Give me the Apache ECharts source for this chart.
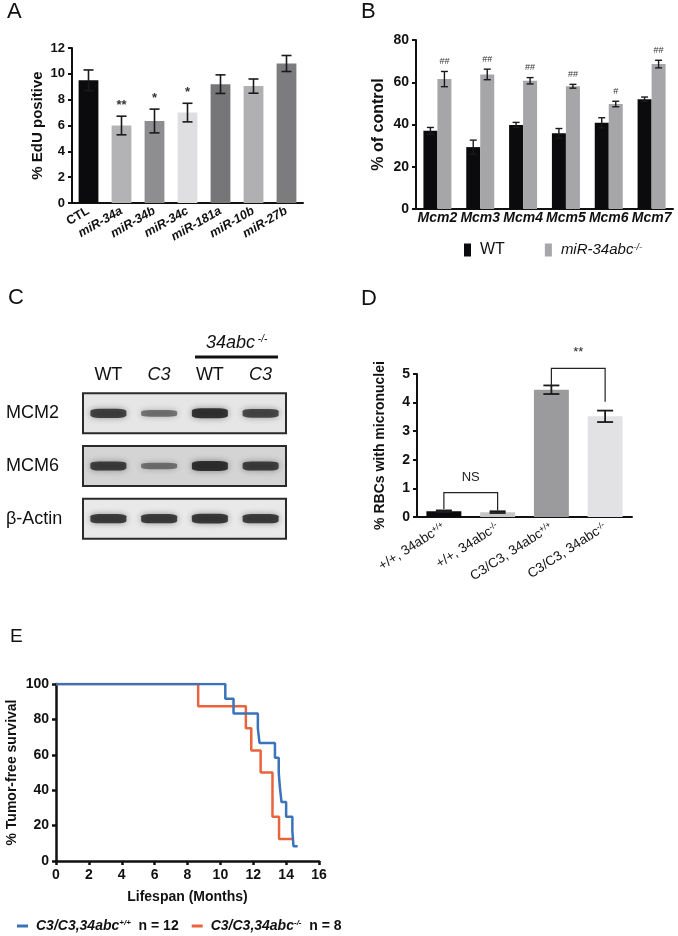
<!DOCTYPE html>
<html>
<head>
<meta charset="utf-8">
<script src="https://cdn.jsdelivr.net/npm/echarts@6/dist/echarts.min.js"></script>
<style>
  html, body { margin: 0; padding: 0; background: #fff; }
  #chart { width: 678px; height: 936px; }
</style>
</head>
<body>
<div id="chart"></div>
<script>
const FONT = "'Liberation Sans', Arial, Helvetica, sans-serif";

// A - EdU
const edCats = ['CTL', 'miR-34a', 'miR-34b', 'miR-34c', 'miR-181a', 'miR-10b', 'miR-27b'];
const edVals = [9.5, 6.0, 6.35, 7.0, 9.2, 9.05, 10.8];
const edErr = [0.8, 0.72, 0.92, 0.72, 0.72, 0.55, 0.62];
const edMarks = ['', '**', '*', '*', '', '', ''];

// B - Mcm expression
const mcmCats = ['Mcm2', 'Mcm3', 'Mcm4', 'Mcm5', 'Mcm6', 'Mcm7'];
const mcmWt = [37, 29.3, 39.8, 35.8, 40.8, 52];
const mcmWtErr = [1.6, 3.3, 1.2, 2.3, 2.4, 1.0];
const mcmKo = [61.5, 63.7, 60.7, 58.1, 49.7, 68.6];
const mcmKoErr = [3.6, 2.5, 1.5, 0.9, 1.3, 1.8];
const mcmMarks = ['##', '##', '##', '##', '#', '##'];

// C - western blot
const blotLanes = ['WT', 'C3', 'WT', 'C3'];
const blotRows = ['MCM2', 'MCM6', 'β-Actin'];
const blotBands = [ // lane, row, intensity
  [0, 0, 0.85], [1, 0, 0.45], [2, 0, 1.0], [3, 0, 0.8],
  [0, 1, 0.85], [1, 1, 0.4], [2, 1, 1.0], [3, 1, 0.85],
  [0, 2, 0.9], [1, 2, 0.9], [2, 2, 0.95], [3, 2, 0.9]
];

// D - micronuclei
const rbcGeno = ['+/+', '+/+', 'C3/C3', 'C3/C3'];
const rbcMir = ['+/+', '-/-', '+/+', '-/-'];
const rbcVals = [0.2, 0.17, 4.45, 3.52];
const rbcErr = [0.03, 0.03, 0.15, 0.2];
const rbcBrackets = [[0, 1, 0.85, 0.28, 0.23], [2, 3, 5.2, 4.6, 4.03]];
const rbcBracketText = ['NS', '**'];

// E - tumor-free survival
const kmWtTime = [0, 10.3, 10.8, 12.28, 12.38, 13.32, 13.55, 13.62, 13.72, 14.0, 14.38, 14.45, 14.7];
const kmWtSurv = [100, 91.7, 83.3, 75, 66.7, 58.3, 50, 41.7, 33.3, 25, 16.7, 8.3, 8.3];
const kmKoTime = [0, 8.65, 11.55, 11.88, 12.45, 13.17, 13.57, 14.38];
const kmKoSurv = [100, 87.5, 75, 62.5, 50, 25, 12.5, 12.5];

// colours
const edColors = ['#0b0b0d', '#b3b3b5', '#8e8e90', '#dfdfe1', '#767678', '#b0b0b2', '#7c7c7e'];
const rbcColors = ['#0b0b0d', '#c6c6c8', '#9b9b9d', '#e2e2e4'];
const blotBg = ['#e6e6e6', '#d4d4d4', '#e9e9e9'];
const blue = '#3a73ba', orange = '#e8643c';

const dom = document.getElementById('chart');
const chart = echarts.init(dom, null, { renderer: 'canvas' });

function errBars(idx, vals, errs, opt) {
  return {
    type: 'custom', xAxisIndex: idx, yAxisIndex: idx, z: 5, silent: true,
    data: vals.map((v, i) => [i, v + errs[i], v - errs[i]]),
    renderItem(params, api) {
      const i = api.value(0);
      const hi = api.coord([i, api.value(1)]);
      const lo = api.coord([i, api.value(2)]);
      const x = hi[0] + (opt.offset || 0);
      const c = opt.cap / 2;
      const st = { stroke: '#1a1a1a', lineWidth: opt.lw || 1.5 };
      const kids = [
        { type: 'line', shape: { x1: x, y1: hi[1], x2: x, y2: lo[1] }, style: st },
        { type: 'line', shape: { x1: x - c, y1: hi[1], x2: x + c, y2: hi[1] }, style: st },
        { type: 'line', shape: { x1: x - c, y1: lo[1], x2: x + c, y2: lo[1] }, style: st }
      ];
      const m = opt.marks ? opt.marks[params.dataIndex] : '';
      if (m) {
        kids.push({
          type: 'text', x: x, y: hi[1] - opt.markGap,
          style: { text: m, fill: '#333', fontSize: opt.markSize, fontFamily: FONT,
                   fontWeight: opt.markWeight || 'normal', align: 'center', verticalAlign: 'middle' }
        });
      }
      return { type: 'group', children: kids };
    }
  };
}

function valAxis(idx, max, interval, fs, lw) {
  return {
    gridIndex: idx, type: 'value', min: 0, max: max, interval: interval,
    splitLine: { show: false },
    axisLine: { show: true, lineStyle: { color: '#111', width: lw } },
    axisTick: { show: true, length: 4, lineStyle: { color: '#111', width: lw } },
    axisLabel: { fontSize: fs, fontWeight: 'bold', color: '#111', margin: 7, fontFamily: FONT }
  };
}

const supRich = (fs) => ({
  i: { fontSize: fs, fontStyle: 'italic', fontWeight: 'bold', color: '#111', fontFamily: FONT },
  n: { fontSize: fs, fontWeight: 'bold', color: '#111', fontFamily: FONT },
  s: { fontSize: Math.round(fs * 0.6), fontStyle: 'italic', fontWeight: 'bold', color: '#111', verticalAlign: 'top', fontFamily: FONT }
});

const options = {
  backgroundColor: '#fff',
  animation: false,
  textStyle: { fontFamily: FONT },
  grid: [
    { left: 72, top: 48, width: 231, height: 155, outerBoundsMode: 'none' },
    { left: 416, top: 40, width: 257, height: 169, outerBoundsMode: 'none' },
    { left: 83, top: 387, width: 203, height: 158, outerBoundsMode: 'none' },
    { left: 417, top: 374, width: 215, height: 143, outerBoundsMode: 'none' },
    { left: 56, top: 684, width: 263, height: 177, outerBoundsMode: 'none' }
  ],
  xAxis: [
    {
      gridIndex: 0, type: 'category',
      data: edCats.map((c, i) => ({ value: c, textStyle: { fontStyle: i ? 'italic' : 'normal' } })),
      axisLine: { lineStyle: { color: '#111', width: 2 } },
      axisTick: { alignWithLabel: true, length: 4, lineStyle: { color: '#111', width: 1.5 } },
      axisLabel: { interval: 0, rotate: 30, fontSize: 12.5, fontWeight: 'bold', color: '#111', margin: 7 }
    },
    {
      gridIndex: 1, type: 'category', data: mcmCats,
      axisLine: { lineStyle: { color: '#111', width: 2 } },
      axisTick: { alignWithLabel: true, length: 4, lineStyle: { color: '#111', width: 1.5 } },
      axisLabel: { interval: 0, fontSize: 14, fontWeight: 'bold', fontStyle: 'italic', color: '#111', margin: 2 }
    },
    {
      gridIndex: 2, type: 'category', position: 'top',
      data: blotLanes.map(l => ({ value: l, textStyle: { fontStyle: l === 'C3' ? 'italic' : 'normal' } })),
      axisLine: { show: false }, axisTick: { show: false },
      axisLabel: { interval: 0, fontSize: 18, color: '#111', margin: 3 }
    },
    {
      gridIndex: 3, type: 'category', data: rbcGeno.map((g, i) => g + ', 34abc^' + rbcMir[i]),
      axisLine: { lineStyle: { color: '#111', width: 2 } },
      axisTick: { show: false },
      axisLabel: {
        interval: 0, rotate: 33, margin: 9,
        formatter: (v) => { const p = v.split('^'); return '{n|' + p[0] + '}{s|' + p[1] + '}'; },
        rich: {
          n: { fontSize: 13.5, color: '#111', fontFamily: FONT },
          s: { fontSize: 8.5, color: '#111', verticalAlign: 'top', fontFamily: FONT }
        }
      }
    },
    Object.assign(valAxis(4, 16, 2, 14, 2.5), {
      name: 'Lifespan (Months)', nameLocation: 'middle', nameGap: 29,
      nameTextStyle: { fontSize: 14, fontWeight: 'bold', color: '#111' }
    })
  ],
  yAxis: [
    Object.assign(valAxis(0, 12, 2, 13, 2), {
      name: '% EdU positive', nameLocation: 'middle', nameGap: 27,
      nameTextStyle: { fontSize: 15, fontWeight: 'bold', color: '#111' }
    }),
    Object.assign(valAxis(1, 80, 20, 14, 2), {
      name: '% of control', nameLocation: 'middle', nameGap: 29,
      nameTextStyle: { fontSize: 16, fontWeight: 'bold', color: '#111' }
    }),
    {
      gridIndex: 2, type: 'category', inverse: true, data: blotRows,
      axisLine: { show: false }, axisTick: { show: false },
      axisLabel: { align: 'left', margin: 77, fontSize: 18, color: '#111' }
    },
    Object.assign(valAxis(3, 5, 1, 14, 2), {
      name: '% RBCs with micronuclei', nameLocation: 'middle', nameGap: 30,
      nameTextStyle: { fontSize: 14, fontWeight: 'bold', color: '#111' }
    }),
    Object.assign(valAxis(4, 100, 20, 14, 2.5), {
      name: '% Tumor-free survival', nameLocation: 'middle', nameGap: 37,
      nameTextStyle: { fontSize: 14, fontWeight: 'bold', color: '#111' }
    })
  ],
  legend: [
    {
      left: 464, top: 242, padding: 0, itemWidth: 7, itemHeight: 13, itemGap: 40,
      icon: 'rect', selectedMode: false,
      data: ['WT', 'KO'],
      formatter: (n) => n === 'WT' ? '{w|WT}' : '{k|miR-34abc}{s|-/-}',
      textStyle: {
        padding: [0, 0, 0, 4],
        rich: {
          w: { fontSize: 16, color: '#111', fontFamily: FONT },
          k: { fontSize: 15, fontStyle: 'italic', color: '#111', fontFamily: FONT },
          s: { fontSize: 9, fontStyle: 'italic', color: '#111', verticalAlign: 'top', fontFamily: FONT }
        }
      }
    },
    {
      left: 17, top: 919, padding: 0, itemWidth: 11, itemHeight: 3, itemGap: 13,
      icon: 'rect', selectedMode: false,
      data: ['kmWt', 'kmKo'],
      formatter: (n) => n === 'kmWt'
        ? '{i|C3/C3,34abc}{s|+/+}{n|  n = 12}'
        : '{i|C3/C3,34abc}{s|-/-}{n|  n = 8}',
      textStyle: { padding: [0, 0, 0, 3], rich: supRich(14) }
    }
  ],
  graphic: [
    { type: 'text', left: 7, top: 1, style: { text: 'A', fontSize: 22, fill: '#111', fontFamily: FONT } },
    { type: 'text', left: 361, top: 1, style: { text: 'B', fontSize: 22, fill: '#111', fontFamily: FONT } },
    { type: 'text', left: 8, top: 287, style: { text: 'C', fontSize: 22, fill: '#111', fontFamily: FONT } },
    { type: 'text', left: 361, top: 288, style: { text: 'D', fontSize: 22, fill: '#111', fontFamily: FONT } },
    { type: 'text', left: 10, top: 627, style: { text: 'E', fontSize: 19, fill: '#111', fontFamily: FONT } },
    {
      type: 'text', left: 206, top: 334,
      style: {
        text: '{a|34abc}{s| -/-}',
        rich: {
          a: { fontSize: 18, fontStyle: 'italic', fill: '#111', fontFamily: FONT },
          s: { fontSize: 10, fontStyle: 'italic', fill: '#111', verticalAlign: 'top', fontFamily: FONT }
        }
      }
    },
    { type: 'line', shape: { x1: 195, y1: 357, x2: 278, y2: 357 }, style: { stroke: '#111', lineWidth: 3 } }
  ],
  series: [
    // A
    {
      type: 'bar', xAxisIndex: 0, yAxisIndex: 0, barWidth: '60%', data: edVals,
      itemStyle: { color: (p) => edColors[p.dataIndex] }
    },
    errBars(0, edVals, edErr, { cap: 10, lw: 1.6, marks: edMarks, markGap: 11, markSize: 13, markWeight: 'bold' }),
    // B
    {
      name: 'WT', type: 'bar', xAxisIndex: 1, yAxisIndex: 1, barWidth: 14, barGap: '0%',
      color: '#0b0b0d', data: mcmWt
    },
    {
      name: 'KO', type: 'bar', xAxisIndex: 1, yAxisIndex: 1, barWidth: 14, barGap: '0%',
      color: '#a6a6a9', data: mcmKo
    },
    errBars(1, mcmWt, mcmWtErr, { cap: 7, lw: 1.4, offset: -7 }),
    errBars(1, mcmKo, mcmKoErr, { cap: 7, lw: 1.4, offset: 7, marks: mcmMarks, markGap: 10, markSize: 9 }),
    // C
    {
      type: 'custom', xAxisIndex: 2, yAxisIndex: 2, z: 1, silent: true,
      data: blotRows.map((r, i) => [0, i]),
      renderItem(params, api) {
        const cs = params.coordSys;
        const y = api.coord([0, api.value(1)])[1];
        return {
          type: 'rect',
          shape: { x: cs.x, y: y - 20, width: cs.width, height: 40 },
          style: { fill: blotBg[params.dataIndex], stroke: '#2a2a2a', lineWidth: 2 }
        };
      }
    },
    {
      type: 'scatter', xAxisIndex: 2, yAxisIndex: 2, z: 3, silent: true,
      symbol: 'roundRect',
      symbolSize: (v) => [36, 4 + 6 * v[2]],
      data: blotBands,
      itemStyle: {
        color: (p) => 'rgba(18,18,18,' + (0.3 + 0.7 * p.value[2]).toFixed(2) + ')',
        shadowBlur: 6, shadowColor: 'rgba(0,0,0,0.5)'
      }
    },
    // D
    {
      type: 'bar', xAxisIndex: 3, yAxisIndex: 3, barWidth: '65%', data: rbcVals,
      itemStyle: { color: (p) => rbcColors[p.dataIndex] }
    },
    errBars(3, rbcVals, rbcErr, { cap: 16, lw: 1.8 }),
    {
      type: 'custom', xAxisIndex: 3, yAxisIndex: 3, z: 6, silent: true,
      data: rbcBrackets,
      renderItem(params, api) {
        const a = api.coord([api.value(0), api.value(2)]);
        const b = api.coord([api.value(1), api.value(2)]);
        const la = api.coord([api.value(0), api.value(3)]);
        const rb = api.coord([api.value(1), api.value(4)]);
        return {
          type: 'group',
          children: [
            {
              type: 'polyline',
              shape: { points: [[a[0], la[1]], [a[0], a[1]], [b[0], b[1]], [b[0], rb[1]]] },
              style: { stroke: '#222', lineWidth: 1.2, fill: null }
            },
            {
              type: 'text', x: (a[0] + b[0]) / 2, y: a[1] - 9,
              style: { text: rbcBracketText[params.dataIndex], fill: '#222', fontSize: 13,
                       fontFamily: FONT, align: 'center', verticalAlign: 'bottom' }
            }
          ]
        };
      }
    },
    // E
    {
      name: 'kmKo', type: 'line', xAxisIndex: 4, yAxisIndex: 4, step: 'end', symbol: 'none',
      color: orange, lineStyle: { width: 2.5, color: orange },
      data: kmKoTime.map((t, i) => [t, kmKoSurv[i]])
    },
    {
      name: 'kmWt', type: 'line', xAxisIndex: 4, yAxisIndex: 4, step: 'end', symbol: 'none',
      color: blue, lineStyle: { width: 2.5, color: blue },
      data: kmWtTime.map((t, i) => [t, kmWtSurv[i]])
    }
  ]
};

chart.setOption(options);
window.addEventListener('resize', () => chart.resize());
</script>
</body>
</html>
